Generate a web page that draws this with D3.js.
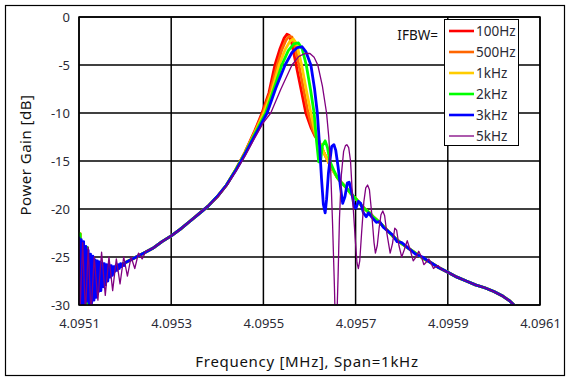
<!DOCTYPE html>
<html>
<head>
<meta charset="utf-8">
<script src="https://cdn.jsdelivr.net/npm/d3@7"></script>
<style>
body { margin: 0; background: #fff; }
text { font-family: "Noto Sans", "DejaVu Sans", sans-serif; }
</style>
</head>
<body>
<div id="mainDiv"></div>
<script>
'use strict';

// tick labels
var xTickLabels = ['4.0951', '4.0953', '4.0955', '4.0957', '4.0959', '4.0961'];
var yTickValues = [0, -5, -10, -15, -20, -25, -30];

// legend
var seriesNames = ['100Hz', '500Hz', '1kHz', '2kHz', '3kHz', '5kHz'];

// x values are Hz above 4.0951 MHz (span 1 kHz), y values are dB
var noiseStepHz = 2.5;   // spacing of the noisy points at the left edge
var noiseBlue = [-22.9, -30.8, -23.2, -30.8, -23.4, -30.8, -23.9, -29.6, -24.3, -30.8,
                 -24.7, -29.8, -24.9, -29.5, -25.3, -29.2, -25.4, -28.6, -25.5, -28.5,
                 -25.6, -28.1, -25.7, -27.9, -25.8, -27.5, -25.8, -27.1, -25.9, -26.9,
                 -26.0, -26.5, -25.9, -26.4, -25.8, -26.2, -25.7, -26.0, -25.7, -25.9];
var noiseGreen = [-30.8, -22.6, -30.8, -23.8, -30.5, -24.2, -29.8, -24.0, -30.8, -24.8,
                  -29.9, -25.1, -29.0, -25.4, -28.4, -25.6, -28.8, -25.7, -27.9, -25.8,
                  -27.6, -25.9, -27.0, -26.0, -27.3, -26.1, -26.8, -26.1, -26.6, -26.2,
                  -26.3, -26.1, -26.2, -26.0, -26.0, -25.9, -25.9, -25.8, -25.7, -25.7];
var noisePurple = [[0, -23.0], [2, -31], [8, -23.5], [14, -31], [20, -24.0], [26, -31], [33, -25.0],
                   [41, -29.5], [49, -24.5], [57, -29.0], [65, -25.0], [73, -28.5], [81, -25.2],
                   [89, -27.8], [97, -25.0], [105, -27.0], [113, -25.0], [121, -26.2], [129, -24.6],
                   [137, -25.2], [145, -24.4]];

var leftTail = [[100, -25.6], [120, -25.1], [140, -24.6], [160, -24.1], [180, -23.4], [200, -22.8],
                [220, -22.1], [240, -21.3], [260, -20.5], [280, -19.7], [300, -18.7], [320, -17.5]];

var rightTail = [[520, -12.9], [530, -14.0], [540, -15.0], [550, -15.9], [560, -16.7], [570, -17.3],
                 [580, -17.8], [590, -18.4], [600, -18.9], [610, -19.5], [620, -20.0], [630, -20.4],
                 [640, -20.9], [650, -21.3], [660, -21.8], [670, -22.3], [680, -22.8], [690, -23.2],
                 [700, -23.6], [715, -24.1], [730, -24.6], [745, -25.1], [760, -25.5], [780, -26.1],
                 [800, -26.6], [820, -27.1], [840, -27.5], [860, -27.9], [880, -28.2], [900, -28.6],
                 [920, -29.1], [935, -29.6], [950, -30.3], [1000, -31.8]];

var peak100 = [[340, -15.9], [360, -14.1], [380, -12.0], [397, -10.0], [412, -7.9], [425, -5.0],
               [436, -3.3], [445, -2.2], [451, -1.8], [456, -1.9], [462, -2.8], [471, -5.0],
               [482, -7.6], [492, -10.0], [503, -11.5], [512, -12.4]];
var peak500 = [[340, -15.9], [360, -14.1], [380, -12.1], [399, -10.0], [414, -7.9], [430, -5.0],
               [440, -3.4], [449, -2.4], [456, -2.0], [462, -2.1], [469, -3.2], [477, -5.0],
               [487, -7.5], [497, -10.0], [507, -11.7], [514, -12.5]];
var peak1k = [[340, -15.9], [360, -14.2], [380, -12.2], [401, -10.0], [418, -7.8], [434, -5.0],
              [447, -3.4], [458, -2.5], [465, -2.3], [472, -2.8], [483, -5.0], [493, -7.6],
              [503, -10.0], [511, -11.8], [516, -12.6]];
var peak2k = [[340, -15.9], [360, -14.2], [380, -12.3], [405, -10.0], [422, -7.6], [440, -5.0],
              [454, -3.5], [466, -2.8], [476, -2.7], [484, -3.3], [493, -5.0], [502, -7.5],
              [510, -10.0], [515, -12.8], [520, -15.1], [524, -15.0], [528, -13.4], [534, -12.9],
              [539, -13.6], [544, -15.0], [552, -15.9]];
var peak3k = [[340, -16.0], [360, -14.3], [380, -12.5], [408, -10.0], [427, -7.4], [447, -5.0],
              [462, -3.7], [473, -3.2], [484, -3.1], [492, -3.6], [503, -5.0], [511, -7.5],
              [517, -10.0], [522, -13.5], [526, -16.8], [530, -19.5], [534, -20.4], [537, -19.0],
              [541, -16.3], [548, -13.5], [553, -13.3], [557, -13.9], [562, -15.6], [568, -18.0],
              [572, -19.4], [577, -18.7], [582, -17.3], [586, -17.2], [592, -18.4], [597, -19.8],
              [601, -19.9], [606, -19.2], [611, -19.4], [617, -20.4], [623, -20.8], [628, -20.4],
              [636, -20.9], [645, -21.4], [652, -21.3], [660, -21.9], [670, -22.3], [680, -22.7],
              [690, -23.4], [700, -23.5], [715, -24.1], [730, -24.7], [745, -25.0]];
var peak5k = [[160, -24.1], [180, -23.4], [200, -22.8], [220, -22.1], [240, -21.3], [260, -20.5],
              [280, -19.7], [300, -18.8], [320, -17.6], [340, -16.1], [360, -14.5], [380, -12.7],
              [400, -11.0], [416, -10.0], [438, -7.5], [462, -5.0], [477, -4.1], [490, -3.8],
              [501, -3.8], [510, -4.2], [518, -5.0], [528, -7.2], [537, -10.0], [542, -12.6],
              [546, -16.0], [550, -21.5], [554, -28.0], [556, -32], [559, -32], [562, -27.0],
              [565, -21.0], [569, -16.5], [574, -14.0], [578, -13.4], [581, -13.3], [585, -13.6],
              [589, -15.0], [593, -18.5], [599, -23.0], [603, -25.6], [606, -26.2], [609, -25.4],
              [613, -22.5], [618, -19.2], [622, -17.8], [626, -17.5], [630, -18.0], [635, -20.5],
              [640, -23.5], [643, -24.6], [647, -23.8], [651, -22.0], [655, -20.6], [659, -20.2],
              [663, -20.7], [668, -22.6], [675, -24.6], [680, -23.6], [685, -22.0], [689, -22.2],
              [694, -23.8], [700, -25.0], [706, -24.2], [712, -23.3], [718, -24.2], [725, -25.4],
              [731, -25.0], [737, -24.4], [743, -25.0], [748, -25.8], [754, -25.5], [759, -25.2],
              [764, -25.7], [769, -26.2], [774, -26.0], [779, -25.9], [787, -26.3], [800, -26.6]];

var chart = {};

chart.w = 570;
chart.h = 382;
chart.margins = {top: 17, bottom: 77, left: 79, right: 30};   // plot area 79..540 x 17..305
chart.colors = ['#ff0000', '#ff6600', '#ffcc00', '#00ff00', '#0000ff', '#800080'];
chart.widths = [2.8, 2.8, 2.8, 2.8, 2.8, 1.3];

chart.pw = chart.w - chart.margins.left - chart.margins.right;
chart.ph = chart.h - chart.margins.top - chart.margins.bottom;

chart.noisePoints = function(values)
{
    return values.map(function(v, i) { return [i * noiseStepHz, v]; });
}

chart.tailAfter = function(seg)
{
    var last = seg[seg.length - 1][0];
    return rightTail.filter(function(d) { return d[0] > last; });
}

chart.buildSeries = function()
{
    var warm = chart.noisePoints(noiseGreen).concat(leftTail);
    return [
        warm.concat(peak100, chart.tailAfter(peak100)),
        warm.concat(peak500, chart.tailAfter(peak500)),
        warm.concat(peak1k, chart.tailAfter(peak1k)),
        warm.concat(peak2k, chart.tailAfter(peak2k)),
        chart.noisePoints(noiseBlue).concat(leftTail, peak3k, chart.tailAfter(peak3k)),
        noisePurple.concat(peak5k, chart.tailAfter(peak5k))
    ];
}

chart.run = function()
{
    var svg = d3.select('#mainDiv').append('svg')
        .attr('width', chart.w)
        .attr('height', chart.h);

    // outer frame
    svg.append('rect')
        .attr('x', 5.5).attr('y', 5.5)
        .attr('width', 559).attr('height', 370)
        .attr('fill', '#fff')
        .attr('stroke', '#000')
        .attr('stroke-width', 1.2);

    var xScale = d3.scaleLinear().domain([0, 1000]).range([0, chart.pw]);
    var yScale = d3.scaleLinear().domain([-30, 0]).range([chart.ph, 0]);
    var xTicks = xTickLabels.map(function(d, i) { return i * 200; });

    var g = svg.append('g')
        .attr('transform', 'translate(' + chart.margins.left + ',' + chart.margins.top + ')');

    g.append('clipPath').attr('id', 'plotClip')
        .append('rect').attr('width', chart.pw).attr('height', chart.ph);

    // grid
    g.selectAll('.vgrid').data(xTicks).enter().append('line')
        .attr('x1', function(d) { return xScale(d); })
        .attr('x2', function(d) { return xScale(d); })
        .attr('y1', 0).attr('y2', chart.ph)
        .attr('stroke', '#000').attr('stroke-width', 1.5);
    g.selectAll('.hgrid').data(yTickValues).enter().append('line')
        .attr('y1', function(d) { return yScale(d); })
        .attr('y2', function(d) { return yScale(d); })
        .attr('x1', 0).attr('x2', chart.pw)
        .attr('stroke', '#000').attr('stroke-width', 1.5);

    // axes (labels only)
    var xAxis = d3.axisBottom(xScale).tickValues(xTicks).tickSize(0).tickPadding(14)
        .tickFormat(function(d, i) { return xTickLabels[i]; });
    var yAxis = d3.axisLeft(yScale).tickValues(yTickValues).tickSize(0).tickPadding(9)
        .tickFormat(function(d) { return d; });

    var xg = g.append('g').attr('transform', 'translate(0,' + chart.ph + ')').call(xAxis);
    var yg = g.append('g').call(yAxis);
    [xg, yg].forEach(function(a) {
        a.select('.domain').remove();
        a.selectAll('text').attr('font-size', 13).attr('fill', '#2a2a35')
            .style('font-family', '"Noto Sans", sans-serif');
    });

    // curves
    var line = d3.line()
        .x(function(d) { return xScale(d[0]); })
        .y(function(d) { return yScale(d[1]); });

    var series = chart.buildSeries();
    g.append('g').attr('clip-path', 'url(#plotClip)')
        .selectAll('path').data(series).enter().append('path')
        .attr('d', line)
        .attr('fill', 'none')
        .attr('stroke', function(d, i) { return chart.colors[i]; })
        .attr('stroke-width', function(d, i) { return chart.widths[i]; })
        .attr('stroke-linejoin', 'round');

    // plot border
    g.append('rect').attr('width', chart.pw).attr('height', chart.ph)
        .attr('fill', 'none').attr('stroke', '#000').attr('stroke-width', 1.5);

    // legend
    var lg = svg.append('g').attr('transform', 'translate(444,19)');
    lg.append('rect').attr('x', 0.5).attr('y', 0.5).attr('width', 74).attr('height', 126)
        .attr('fill', '#fff').attr('stroke', '#000').attr('stroke-width', 1);
    var items = lg.selectAll('.item').data(seriesNames).enter().append('g')
        .attr('transform', function(d, i) { return 'translate(0,' + (12 + i * 21) + ')'; });
    items.append('line')
        .attr('x1', 5).attr('x2', 30).attr('y1', 0).attr('y2', 0)
        .attr('stroke', function(d, i) { return chart.colors[i]; })
        .attr('stroke-width', function(d, i) { return i < 5 ? 2.6 : 1.3; });
    items.append('text')
        .attr('x', 32).attr('y', 0).attr('dy', '0.35em')
        .attr('font-size', 13.5).attr('fill', '#2a2a35')
        .text(function(d) { return d; });

    svg.append('text')
        .attr('x', 438).attr('y', 40)
        .attr('text-anchor', 'end')
        .attr('font-size', 13.5).attr('fill', '#111')
        .text('IFBW=');

    // axis titles
    svg.append('text')
        .attr('x', 307).attr('y', 367)
        .attr('text-anchor', 'middle')
        .attr('font-size', 15).attr('letter-spacing', 0.7).attr('fill', '#111')
        .text('Frequency [MHz], Span=1kHz');

    svg.append('text')
        .attr('transform', 'translate(31,155) rotate(-90)')
        .attr('text-anchor', 'middle')
        .attr('font-size', 15).attr('letter-spacing', 0.5).attr('fill', '#111')
        .text('Power Gain [dB]');
}

window.onload = chart.run;
</script>
</body>
</html>
